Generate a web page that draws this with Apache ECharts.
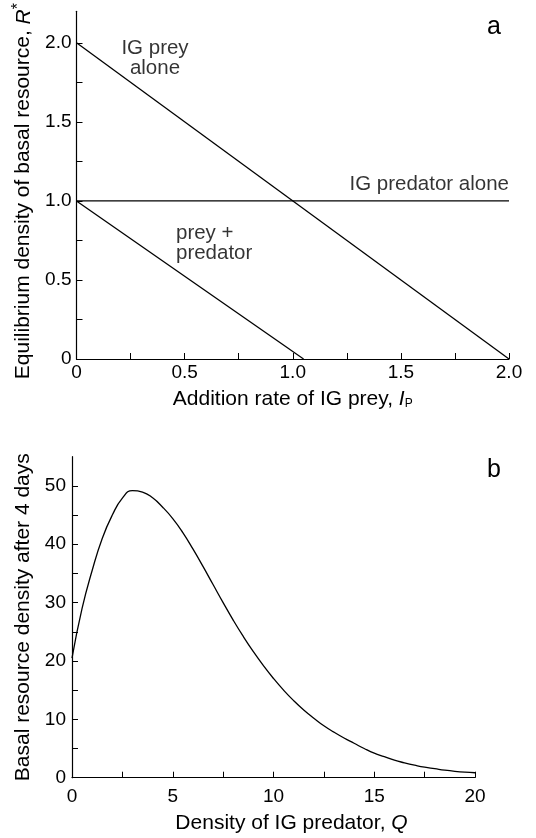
<!DOCTYPE html>
<html><head><meta charset="utf-8">
<script src="https://cdn.jsdelivr.net/npm/echarts@6/dist/echarts.min.js"></script>
<style>html,body{margin:0;padding:0;background:#fff}#c{width:536px;height:838px}</style>
</head><body><div id="c"></div>
<script>
// ---- Panel a data ----
const topXTicks = [0,0.25,0.5,0.75,1.0,1.25,1.5,1.75,2.0];
const topXLabels = [0,0.5,1.0,1.5,2.0];
const topYTicks = [0,0.25,0.5,0.75,1.0,1.25,1.5,1.75,2.0];
const topYLabels = [0,0.5,1.0,1.5,2.0];
const preyAloneX = [0, 2.0];
const preyAloneY = [2.0, 0];
const predAloneX = [0, 2.0];
const predAloneY = [1.0, 1.0];
const bothX = [0, 1.05];
const bothY = [1.0, 0];
// annotation anchors (data coordinates)
const annPreyAlone = [0.363, 1.90];
const annPredAlone = [2.0, 1.105];
const annBoth = [0.46, 0.73];

// ---- Panel b data ----
const botXTicks = [0,2.5,5,7.5,10,12.5,15,17.5,20];
const botXLabels = [0,5,10,15,20];
const botYTicks = [0,5,10,15,20,25,30,35,40,45,50];
const botYLabels = [0,10,20,30,40,50];
const qValues = [0,0.5,1.0,1.5,2.0,2.5,3.0,3.5,4.0,4.5,5.0,5.5,6.0,6.5,7.0,7.5,8.0,8.5,9.0,9.5,10.0,10.5,11.0,11.5,12.0,12.5,13.0,13.5,14.0,14.5,15.0,15.5,16.0,16.5,17.0,17.5,18.0,18.5,19.0,19.5,20.0];
const rValues = [20.5,29,35.5,41,45,47.9,49.2,48.95,47.95,46.35,44.4,42,39.2,36.2,33.1,30,27,24.2,21.6,19.2,17.0,15.0,13.2,11.6,10.2,8.9,7.8,6.8,5.9,5.0,4.2,3.6,3.0,2.55,2.15,1.8,1.55,1.3,1.1,0.95,0.85];

const FONT = '"Liberation Sans", Arial, Helvetica, sans-serif';
const BLACK = '#000';
const zip = (xs, ys) => xs.map((x, i) => [x, ys[i]]);
const fmtTop = v => (v === 0 ? '0' : Number(v).toFixed(1));

function axisBase(min, max, ticks, labels, fmt, margin) {
  return {
    type: 'value', min: min, max: max,
    splitLine: {show: false},
    axisLine: {show: true, onZero: false, lineStyle: {color: BLACK, width: 1.2}},
    axisTick: {show: true, inside: true, length: 6, customValues: ticks, lineStyle: {color: BLACK, width: 1}},
    axisLabel: {show: true, customValues: labels, formatter: fmt, color: BLACK, fontFamily: FONT, fontSize: 19, margin: margin},
    nameTextStyle: {color: BLACK, fontFamily: FONT, fontSize: 21}
  };
}

const lineStyle = {color: BLACK, width: 1.3};
const lineSeries = (xi, yi, data, smooth) => ({
  type: 'line', xAxisIndex: xi, yAxisIndex: yi, data: data, showSymbol: false, symbol: 'none',
  smooth: smooth || false, lineStyle: lineStyle, silent: true, animation: false, z: 3
});
const annLabel = {color: BLACK, fontFamily: FONT, fontSize: 20.5, lineHeight: 20};

const option = {
  backgroundColor: '#fff',
  animation: false,
  title: [
    {text: 'a', right: 30, top: 10, textStyle: {color: BLACK, fontFamily: FONT, fontSize: 25, fontWeight: 'normal'}},
    {text: 'b', right: 30, top: 453, textStyle: {color: BLACK, fontFamily: FONT, fontSize: 25, fontWeight: 'normal'}}
  ],
  grid: [
    {left: 76.5, right: 27, top: 10, height: 349},
    {left: 72, right: 61, top: 456.7, height: 321}
  ],
  xAxis: [
    Object.assign(axisBase(0, 2.0, topXTicks, topXLabels, fmtTop, 4), {
      gridIndex: 0, name: 'Addition rate of IG prey, {i|I}{sub|P}', nameLocation: 'middle', nameGap: 29,
      nameTextStyle: {color: BLACK, fontFamily: FONT, fontSize: 21,
        rich: {i: {fontStyle: 'italic', fontSize: 21, fontFamily: FONT, color: BLACK},
               sub: {fontSize: 12, fontFamily: FONT, color: BLACK, padding: [10, 0, 0, 0]}}}
    }),
    Object.assign(axisBase(0, 20, botXTicks, botXLabels, v => String(v), 10), {
      gridIndex: 1, name: 'Density of IG predator, {i|Q}', nameLocation: 'middle', nameGap: 35,
      nameTextStyle: {color: BLACK, fontFamily: FONT, fontSize: 21, padding: [0, 0, 0, 36],
        rich: {i: {fontStyle: 'italic', fontSize: 21, fontFamily: FONT, color: BLACK}}}
    })
  ],
  yAxis: [
    Object.assign(axisBase(0, 2.2, topYTicks, topYLabels, fmtTop, 5), {
      gridIndex: 0, name: 'Equilibrium density of basal resource, {i|R}{sup|*}', nameLocation: 'middle', nameGap: 36,
      nameTextStyle: {color: BLACK, fontFamily: FONT, fontSize: 21, padding: [0, 12, 0, 0],
        rich: {i: {fontStyle: 'italic', fontSize: 21, fontFamily: FONT, color: BLACK},
               sup: {fontSize: 16, fontFamily: FONT, color: BLACK, padding: [0, 0, 10, 0]}}}
    }),
    Object.assign(axisBase(0, 55, botYTicks, botYLabels, v => String(v), 6), {
      gridIndex: 1, name: 'Basal resource density after 4 days', nameLocation: 'middle', nameGap: 32
    })
  ],
  series: [
    lineSeries(0, 0, zip(preyAloneX, preyAloneY)),
    lineSeries(0, 0, zip(predAloneX, predAloneY)),
    lineSeries(0, 0, zip(bothX, bothY)),
    lineSeries(1, 1, zip(qValues, rValues), 0.5),
    {
      type: 'scatter', xAxisIndex: 0, yAxisIndex: 0, symbolSize: 0, silent: true, z: 5,
      data: [
        {value: annPreyAlone, label: Object.assign({show: true, position: 'inside', align: 'center', formatter: 'IG prey\nalone'}, annLabel)},
        {value: annPredAlone, label: Object.assign({show: true, position: 'left', distance: 0, formatter: 'IG predator alone'}, annLabel)},
        {value: annBoth, label: Object.assign({show: true, position: 'right', distance: 0, align: 'left', formatter: 'prey +\npredator'}, annLabel)}
      ]
    }
  ]
};
const chart = echarts.init(document.getElementById('c'), null, {renderer: 'canvas'});
chart.setOption(option);
</script></body></html>
